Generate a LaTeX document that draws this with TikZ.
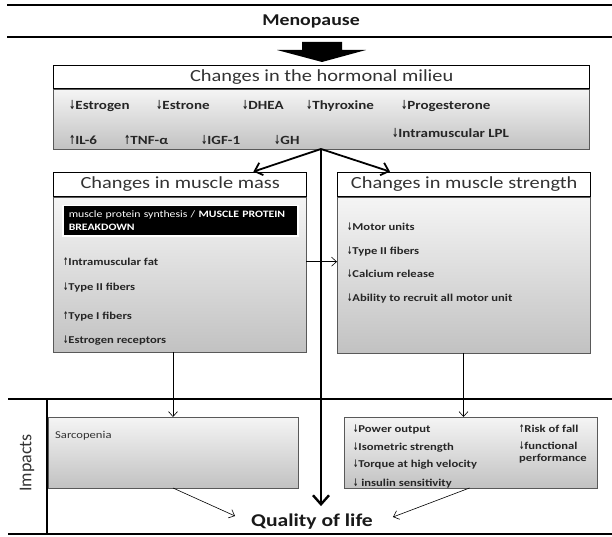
\documentclass[tikz,border=0pt]{standalone}
\usepackage{fontspec}
\setmainfont{Carlito}[FakeStretch=1.2]
\newfontfamily\impactsfont{Carlito}
\newfontfamily\arrowfont{DejaVu Sans}[FakeStretch=0.6]
\newcommand{\decr}{{\arrowfont\char"2193}}
\newcommand{\incr}{{\arrowfont\char"2191}}
\usetikzlibrary{arrows.meta, calc, positioning}

\begin{document}
\begin{tikzpicture}[
    x=1pt, y=-1pt,
    body/.style={draw=black!65, top color=gray!8, bottom color=gray!48, inner sep=0, outer sep=0, anchor=north west},
    ttl/.style={draw, line width=1.4pt, fill=white, inner sep=0, anchor=south west, text=black!80, font=\fontsize{17}{17}\selectfont},
    hitem/.style={anchor=base west, inner sep=0, text=black!85, font=\bfseries\fontsize{12.5}{14}\selectfont},
    mitem/.style={anchor=base west, inner sep=0, text=black!85, font=\bfseries\fontsize{10.5}{12}\selectfont},
    conn/.style={-{Straight Barb[length=5pt, width=9pt]}, line width=0.6pt},
    fork/.style={-{Straight Barb[length=7pt, width=13pt]}, line width=1.8pt},
    frame/.style={line width=1.4pt}
]
    \useasboundingbox[fill=white] (0,0) rectangle (612,537);

    % Header
    \draw[frame] (7,5) -- (612,5);
    \node[font=\bfseries\fontsize{16.5}{18}\selectfont, text=black!90] (meno) at (311,21) {Menopause};
    \draw[frame] (7,37) -- (612,37);
    \fill[black] (302,42) -- (342,42) -- (342,50) -- (366,50) -- (322,62) -- (277,50) -- (302,50) -- cycle;

    % Hormonal milieu
    \node[body, minimum width=536, minimum height=60] (hormbody) at (53,89) {};
    \node[ttl, minimum width=536, minimum height=23, above=0pt of hormbody.north west, anchor=south west] (hormtitle) {Changes in the hormonal milieu};
    \node[hitem] (estrogen) at (69,109.5) {\decr Estrogen};
    \node[hitem] (estrone) at (156,109.5) {\decr Estrone};
    \node[hitem] (dhea) at (242,109.5) {\decr DHEA};
    \node[hitem] (thyroxine) at (306,109.5) {\decr Thyroxine};
    \node[hitem] (progest) at (401,109.5) {\decr Progesterone};
    \node[hitem] (il6) at (69,145) {\incr IL-6};
    \node[hitem] (tnf) at (124,145) {\incr TNF-α};
    \node[hitem] (igf) at (201,145) {\decr IGF-1};
    \node[hitem] (gh) at (274,145) {\decr GH};
    \node[hitem] (lpl) at (392,138) {\decr Intramuscular LPL};

    % Muscle mass
    \node[body, minimum width=253, minimum height=155] (massbody) at (53,197) {};
    \node[ttl, minimum width=253, minimum height=24, above=0pt of massbody.north west, anchor=south west] (masstitle) {Changes in muscle mass};
    \node[fill=black, draw=white, line width=1.5pt, text=white, anchor=north west, minimum height=30, text width=223, inner xsep=6, inner ysep=2, align=left,
          font=\fontsize{9.8}{12.5}\selectfont] (breakdown) at (62,205)
          {\mbox{muscle protein synthesis / \textbf{MUSCLE PROTEIN}}\\\textbf{BREAKDOWN}};
    \node[mitem] (imfat) at (63,265.5) {\incr Intramuscular fat};
    \node[mitem] (typeii) at (63,290.5) {\decr Type II fibers};
    \node[mitem] (typei) at (63,319.5) {\incr Type I fibers};
    \node[mitem] (esrec) at (63,343.5) {\decr Estrogen receptors};

    % Muscle strength
    \node[body, minimum width=253, minimum height=156] (strbody) at (337,197) {};
    \node[ttl, minimum width=253, minimum height=24, above=0pt of strbody.north west, anchor=south west] (strtitle) {Changes in muscle strength};
    \node[mitem] (motor) at (347,230.5) {\decr Motor units};
    \node[mitem] (typeiis) at (347,254.5) {\decr Type II fibers};
    \node[mitem] (calcium) at (347,277.5) {\decr Calcium release};
    \node[mitem] (recruit) at (347,301.5) {\decr Ability to recruit all motor unit};

    % Impacts
    \draw[line width=1.1pt] (8,399) -- (612,399);
    \draw[line width=1.1pt] (47,399) -- (47,534);
    \draw[line width=2pt] (8,534) -- (612,534);
    \node[rotate=90, text=black!80, font=\impactsfont\fontsize{18}{18}\selectfont] (impacts) at (27,463) {Impacts};
    \node[body, minimum width=250, minimum height=71] (sarcobox) at (48,417) {};
    \node[anchor=base west, inner sep=0, text=black!80, font=\fontsize{10.5}{12}\selectfont] (sarco) at (55,438.5) {Sarcopenia};
    \node[body, minimum width=253, minimum height=71] (perfbox) at (344,417) {};
    \node[mitem] (power) at (353,432.5) {\decr Power output};
    \node[mitem] (isometric) at (353,450.5) {\decr Isometric strength};
    \node[mitem] (torque) at (353,467.5) {\decr Torque at high velocity};
    \node[mitem] (insulin) at (353,486.5) {\decr\ insulin sensitivity};
    \node[mitem] (fall) at (519,432.5) {\incr Risk of fall};
    \node[mitem, align=left] (functional) at (519,461.5) {\decr functional\\performance};
    \node[font=\bfseries\fontsize{18}{20}\selectfont, text=black!90, inner sep=8] (quality) at (312,522) {Quality of life};

    % Connections
    \coordinate (fork) at (321,149);
    \draw[fork] (fork) -- ($(masstitle.north east)+(-54,0)$);
    \draw[fork] (fork) -- ($(strtitle.north west)+(53,0)$);
    \draw[-{Straight Barb[length=9pt, width=16pt]}, line width=2.4pt] (fork) -- (fork |- quality.north);
    \draw[conn] (massbody.east |- imfat.west) -- (strbody.west |- imfat.west);
    \draw[conn] (massbody.south -| sarcobox.north) -- (sarcobox.north);
    \draw[conn] (strbody.south) -- (strbody.south |- perfbox.north);
    \draw[conn] (sarcobox.south) -- ($(quality.west)+(-8,-6)$);
    \draw[conn] ($(perfbox.south)+(-1,0)$) -- ($(quality.east)+(12,-5)$);
\end{tikzpicture}
\end{document}
